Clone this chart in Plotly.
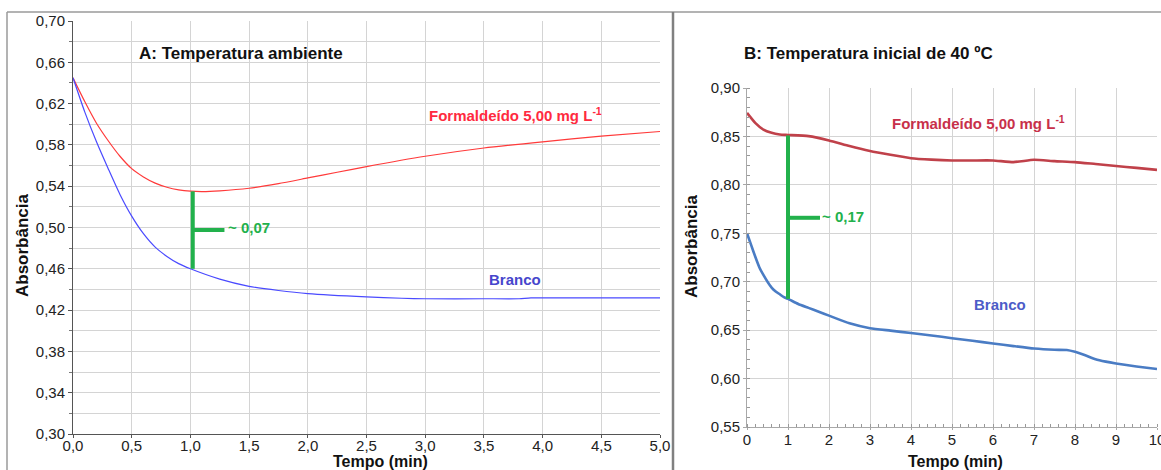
import plotly.graph_objects as go

W, H = 1161, 470
FONT = "Arial, Liberation Sans, sans-serif"

# ---- Panel A: room temperature ----
t_a_form = [0, 0.1, 0.2, 0.3, 0.4, 0.5, 0.6, 0.7, 0.8, 0.9, 1.0, 1.1, 1.25, 1.5,
            1.75, 2.0, 2.25, 2.5, 3.0, 3.5, 4.0, 4.5, 5.0]
abs_a_form = [0.645, 0.622, 0.601, 0.584, 0.569, 0.557, 0.549, 0.543, 0.539, 0.5365,
              0.5352, 0.5348, 0.5355, 0.538, 0.5425, 0.548, 0.5535, 0.559, 0.569,
              0.577, 0.583, 0.5885, 0.593]

t_a_blank = [0, 0.1, 0.2, 0.3, 0.4, 0.5, 0.6, 0.7, 0.8, 0.9, 1.0, 1.25, 1.5, 1.75,
             2.0, 2.5, 2.8, 3.0, 3.5, 3.8, 3.9, 4.5, 5.0]
abs_a_blank = [0.645, 0.612, 0.583, 0.557, 0.532, 0.511, 0.494, 0.481, 0.472, 0.465,
               0.460, 0.450, 0.443, 0.439, 0.436, 0.4328, 0.4315, 0.431, 0.431,
               0.431, 0.4318, 0.4318, 0.4318]

# difference marker in panel A
gap_a_t = 1.02
gap_a_top = 0.535
gap_a_bottom = 0.460
gap_a_arm_end = 1.29
gap_a_label = "~ 0,07"

# ---- Panel B: initial temperature 40 ºC ----
t_b_form = [0, 0.2, 0.4, 0.6, 0.8, 1.0, 1.5, 2.0, 2.5, 3.0, 3.5, 4.0, 4.5, 5.0, 5.5,
            6.0, 6.5, 7.0, 7.5, 8.0, 8.5, 9.0, 9.5, 10.0]
abs_b_form = [0.8743, 0.864, 0.857, 0.8537, 0.852, 0.8515, 0.8503, 0.8459, 0.840,
              0.8349, 0.831, 0.8275, 0.826, 0.8252, 0.8252, 0.8252, 0.8235, 0.8259,
              0.8245, 0.8235, 0.8215, 0.8195, 0.8175, 0.8155]

t_b_blank = [0, 0.1, 0.2, 0.3, 0.4, 0.5, 0.6, 0.7, 0.8, 0.9, 1.0, 1.25, 1.5, 1.75,
             2.0, 2.5, 3.0, 3.5, 4.0, 4.5, 5.0, 5.5, 6.0, 6.5, 7.0, 7.5, 7.8, 8.0,
             8.25, 8.5, 8.75, 9.0, 9.5, 10.0]
abs_b_blank = [0.750, 0.738, 0.726, 0.715, 0.707, 0.700, 0.694, 0.690, 0.687, 0.684,
               0.6823, 0.677, 0.673, 0.669, 0.665, 0.657, 0.652, 0.6495, 0.647,
               0.6445, 0.6417, 0.639, 0.6362, 0.6335, 0.631, 0.6297, 0.6295, 0.6276,
               0.624, 0.620, 0.6175, 0.6156, 0.6125, 0.6098]

gap_b_t = 1.0
gap_b_top = 0.851
gap_b_bottom = 0.6823
gap_b_mid = 0.766
gap_b_arm_end = 1.78
gap_b_label = "~ 0,17"

series_label = "Formaldeído 5,00 mg L<sup>-1</sup>"
blank_label = "Branco"

GREEN = "#22b14c"


def px(x):
    return x / W


def py(y):
    return 1 - y / H


fig = go.Figure()

# Panel A curves
fig.add_trace(go.Scatter(x=t_a_form, y=abs_a_form, mode="lines",
                         line=dict(color="#ff3a3a", width=1.2, shape="spline", smoothing=0.6),
                         xaxis="x", yaxis="y", showlegend=False))
fig.add_trace(go.Scatter(x=t_a_blank, y=abs_a_blank, mode="lines",
                         line=dict(color="#4a4aff", width=1.2, shape="spline", smoothing=0.6),
                         xaxis="x", yaxis="y", showlegend=False))
mid_a = (gap_a_top + gap_a_bottom) / 2
fig.add_trace(go.Scatter(x=[gap_a_t, gap_a_t], y=[gap_a_top, gap_a_bottom], mode="lines",
                         line=dict(color=GREEN, width=4), xaxis="x", yaxis="y", showlegend=False))
fig.add_trace(go.Scatter(x=[gap_a_t, gap_a_arm_end], y=[mid_a, mid_a], mode="lines",
                         line=dict(color=GREEN, width=4), xaxis="x", yaxis="y", showlegend=False))

# Panel B curves
fig.add_trace(go.Scatter(x=t_b_form, y=abs_b_form, mode="lines",
                         line=dict(color="#c0414a", width=2.6, shape="spline", smoothing=0.5),
                         xaxis="x2", yaxis="y2", showlegend=False))
fig.add_trace(go.Scatter(x=t_b_blank, y=abs_b_blank, mode="lines",
                         line=dict(color="#4a7cc4", width=2.6, shape="spline", smoothing=0.5),
                         xaxis="x2", yaxis="y2", showlegend=False))
fig.add_trace(go.Scatter(x=[gap_b_t, gap_b_t], y=[gap_b_top, gap_b_bottom], mode="lines",
                         line=dict(color=GREEN, width=4), xaxis="x2", yaxis="y2", showlegend=False))
fig.add_trace(go.Scatter(x=[gap_b_t, gap_b_arm_end], y=[gap_b_mid, gap_b_mid], mode="lines",
                         line=dict(color=GREEN, width=4), xaxis="x2", yaxis="y2", showlegend=False))

tick_font = dict(family=FONT, size=15, color="#222222")

fig.update_layout(
    width=W, height=H,
    margin=dict(l=0, r=0, t=0, b=0, autoexpand=False),
    paper_bgcolor="white", plot_bgcolor="white",
    separators=", ",
    font=dict(family=FONT),
    xaxis=dict(domain=[px(73), px(660)], range=[0, 5], dtick=0.5, tick0=0,
               tickformat=".1f", showgrid=True, gridcolor="#d4d4d4", gridwidth=1,
               showline=True, linecolor="#555555", linewidth=1,
               ticks="outside", ticklen=3, tickcolor="#555555", ticklabelstandoff=-5,
               tickfont=tick_font, zeroline=False, anchor="y", automargin=False,
               ticklabeloverflow="allow"),
    yaxis=dict(domain=[py(434), py(21)], range=[0.30, 0.70], dtick=0.04, tick0=0.30,
               tickformat=".2f", showgrid=True, gridcolor="#d4d4d4", gridwidth=1,
               showline=True, linecolor="#555555", linewidth=1,
               ticks="outside", ticklen=4, tickcolor="#555555",
               tickfont=tick_font, zeroline=False, anchor="x", automargin=False,
               minor=dict(dtick=0.02, tick0=0.30, showgrid=True, gridcolor="#d4d4d4",
                          ticks="outside", ticklen=3, tickcolor="#777777")),
    xaxis2=dict(domain=[px(747), px(1157)], range=[0, 10], dtick=1, tick0=0,
                tickformat="d", showgrid=True, gridcolor="#d4d4d4", gridwidth=1,
                showline=True, linecolor="#a8a8a8", linewidth=1,
                ticks="outside", ticklen=2, tickcolor="#a8a8a8", ticklabelstandoff=-3,
                tickfont=tick_font, zeroline=False, anchor="y2", automargin=False,
                ticklabeloverflow="allow",
                minor=dict(dtick=0.2, tick0=0, ticks="inside", ticklen=3,
                           tickcolor="#999999", showgrid=False)),
    yaxis2=dict(domain=[py(427), py(88)], range=[0.55, 0.90], dtick=0.05, tick0=0.55,
                tickformat=".2f", showgrid=True, gridcolor="#d4d4d4", gridwidth=1,
                showline=True, linecolor="#a8a8a8", linewidth=1,
                ticks="outside", ticklen=3, tickcolor="#a8a8a8",
                tickfont=tick_font, zeroline=False, anchor="x2", automargin=False,
                minor=dict(dtick=0.01, tick0=0.55, ticks="inside", ticklen=3,
                           tickcolor="#999999", showgrid=False)),
)

annotations = [
    # panel titles
    dict(text="<b>A: Temperatura ambiente</b>", x=px(137), y=py(53), xanchor="left",
         yanchor="middle", font=dict(size=17, color="#111111")),
    dict(text="<b>B: Temperatura inicial de 40 ºC</b>", x=px(742), y=py(53), xanchor="left",
         yanchor="middle", font=dict(size=17, color="#111111")),
    # axis titles
    dict(text="<b>Absorbância</b>", x=px(22), y=py(245), textangle=-90,
         xanchor="center", yanchor="middle", font=dict(size=17, color="#111111")),
    dict(text="<b>Absorbância</b>", x=px(691), y=py(246), textangle=-90,
         xanchor="center", yanchor="middle", font=dict(size=17, color="#111111")),
    dict(text="<b>Tempo (min)</b>", x=px(380), y=py(461), xanchor="center",
         yanchor="middle", font=dict(size=16, color="#111111")),
    dict(text="<b>Tempo (min)</b>", x=px(955), y=py(461), xanchor="center",
         yanchor="middle", font=dict(size=16, color="#111111")),
    # series labels, panel A
    dict(text="<b>" + series_label + "</b>", x=px(427), y=py(114), xanchor="left",
         yanchor="middle", font=dict(size=15, color="#ff2a40")),
    dict(text="<b>" + blank_label + "</b>", x=px(487), y=py(279), xanchor="left",
         yanchor="middle", font=dict(size=15, color="#4646cc")),
    dict(text="<b>" + gap_a_label + "</b>", x=px(226), y=py(227), xanchor="left",
         yanchor="middle", font=dict(size=15, color=GREEN)),
    # series labels, panel B
    dict(text="<b>" + series_label + "</b>", x=px(890), y=py(122), xanchor="left",
         yanchor="middle", font=dict(size=15, color="#c8304a")),
    dict(text="<b>" + blank_label + "</b>", x=px(972), y=py(304), xanchor="left",
         yanchor="middle", font=dict(size=15, color="#4c5cc8")),
    dict(text="<b>" + gap_b_label + "</b>", x=px(820), y=py(216), xanchor="left",
         yanchor="middle", font=dict(size=15, color=GREEN)),
]
for a in annotations:
    a.update(xref="paper", yref="paper", showarrow=False)
fig.update_layout(annotations=annotations)

# panel frames
frame = "#9a9a9a"
fig.update_layout(shapes=[
    dict(type="line", xref="paper", yref="paper", x0=px(7), x1=1.0, y0=py(12), y1=py(12),
         line=dict(color=frame, width=1.5)),
    dict(type="line", xref="paper", yref="paper", x0=px(7), x1=px(7), y0=py(12), y1=0,
         line=dict(color=frame, width=1.5)),
    dict(type="line", xref="paper", yref="paper", x0=px(673), x1=px(673), y0=py(12), y1=0,
         line=dict(color="#808080", width=2.5)),
])

fig.write_html("out.html")
